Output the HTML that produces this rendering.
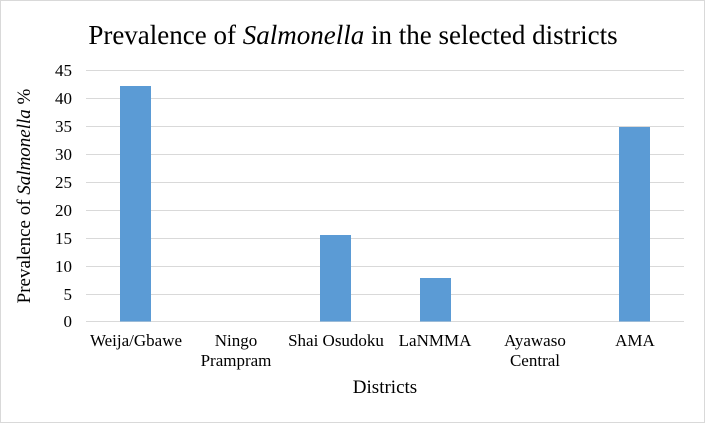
<!DOCTYPE html>
<html><head><style>
body{margin:0;background:#fff}
svg{display:block}
svg text{font-family:"Liberation Serif","Times New Roman","DejaVu Serif",serif;fill:#000}
</style></head><body>
<svg width="706" height="424" xmlns="http://www.w3.org/2000/svg" font-family="Liberation Serif, Times New Roman, serif">
<rect x="0.5" y="0.5" width="704" height="422" fill="#fff" stroke="#d9d9d9"/>
<text x="353" y="44" font-size="27" text-anchor="middle">Prevalence of <tspan font-style="italic">Salmonella</tspan> in the selected districts</text>
<g stroke="#d9d9d9" stroke-width="1">
<line x1="86" x2="684" y1="70.5" y2="70.5"/>
<line x1="86" x2="684" y1="98.5" y2="98.5"/>
<line x1="86" x2="684" y1="126.5" y2="126.5"/>
<line x1="86" x2="684" y1="154.5" y2="154.5"/>
<line x1="86" x2="684" y1="182.5" y2="182.5"/>
<line x1="86" x2="684" y1="210.5" y2="210.5"/>
<line x1="86" x2="684" y1="238.5" y2="238.5"/>
<line x1="86" x2="684" y1="266.5" y2="266.5"/>
<line x1="86" x2="684" y1="294.5" y2="294.5"/>
<line x1="86" x2="684" y1="321.5" y2="321.5"/>
</g>
<g font-size="17" text-anchor="end">
<text x="72" y="76">45</text><text x="72" y="104">40</text><text x="72" y="132">35</text>
<text x="72" y="160">30</text><text x="72" y="188">25</text><text x="72" y="216">20</text>
<text x="72" y="244">15</text><text x="72" y="272">10</text><text x="72" y="300">5</text>
<text x="72" y="327">0</text>
</g>
<g fill="#5b9bd5">
<rect x="120" y="86" width="31" height="235.5"/>
<rect x="320" y="235" width="31" height="86.5"/>
<rect x="420" y="278" width="31" height="43.5"/>
<rect x="619" y="127" width="31" height="194.5"/>
</g>
<g font-size="17" text-anchor="middle">
<text x="136" y="346">Weija/Gbawe</text>
<text x="236" y="346">Ningo</text><text x="236" y="366">Prampram</text>
<text x="336" y="346">Shai Osudoku</text>
<text x="435" y="346">LaNMMA</text>
<text x="535" y="346">Ayawaso</text><text x="535" y="366">Central</text>
<text x="635" y="346">AMA</text>
</g>
<text x="385" y="393" font-size="19" text-anchor="middle">Districts</text>
<text transform="translate(30,196) rotate(-90)" font-size="19" text-anchor="middle">Prevalence of <tspan font-style="italic">Salmonella</tspan> %</text>
</svg>
</body></html>
